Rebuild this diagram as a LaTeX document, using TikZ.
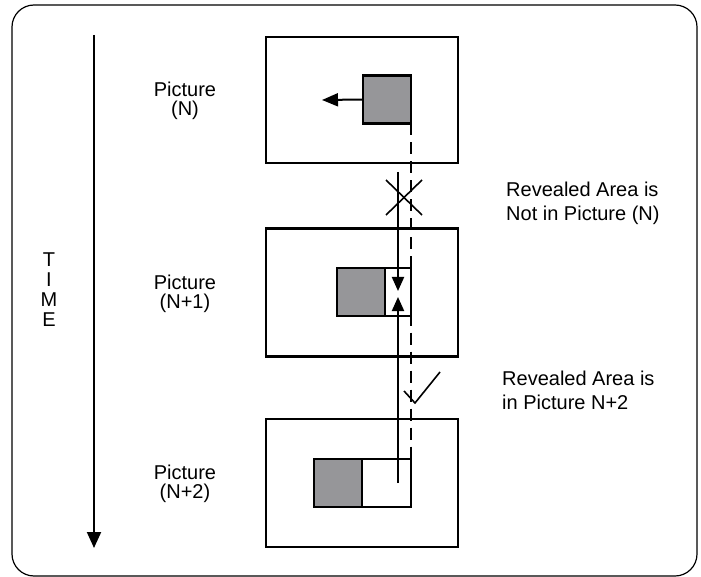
\documentclass[tikz,border=0pt]{standalone}
\usepackage{fontspec}
\setmainfont{Liberation Sans}
\usepackage{tikz}
\usetikzlibrary{positioning, arrows.meta}
\definecolor{movgray}{RGB}{150,150,153}

\begin{document}
\begin{tikzpicture}[x=1pt, y=-1pt,
        frame/.style={rectangle, draw, line width=2.2pt, minimum width=192pt, minimum height=127pt, inner sep=0pt, outer sep=0pt},
        movbox/.style={rectangle, draw, fill=movgray, line width=2.2pt, minimum width=48pt, minimum height=48pt, inner sep=0pt, outer sep=0pt},
        reveal/.style={rectangle, draw, fill=white, line width=2.2pt, minimum height=48pt, inner sep=0pt, outer sep=0pt},
        lbl/.style={font=\fontsize{20}{18.5}\selectfont, align=center, inner sep=0pt, anchor=north},
        note/.style={font=\fontsize{20}{24}\selectfont, align=left, inner sep=0pt, anchor=north west},
        ray/.style={line width=2pt, -{Triangle[length=14pt, width=12pt]}},
        signline/.style={line width=1.6pt}]
        \useasboundingbox (0,0) rectangle (701,577);
        \draw[rounded corners=22pt, line width=1.2pt] (12,5) rectangle (697,576);

        % time axis
        \coordinate (t0) at (94,35);
        \coordinate (t1) at (94,548);
        \draw[line width=2pt, -{Triangle[length=16pt, width=14pt]}] (t0) -- (t1);
        \node[font=\fontsize{20}{20}\selectfont, align=center, inner sep=0pt, anchor=north](time) at (49,253) {T\\I\\M\\E};

        % the three pictures
        \node[frame, minimum height=126pt](frameN) at (362,100) {};
        \node[frame, minimum height=128pt](frameN1) at (362,292.5) {};
        \node[frame, minimum height=128pt](frameN2) at (362,483) {};

        \node[movbox](sqN) at (387,99.5) {};
        \node[movbox](sqN1) at (361,292) {};
        \node[reveal, minimum width=26pt](revN1)[right = 0pt of sqN1] {};
        \node[movbox](sqN2) at (338,483) {};
        \node[reveal, minimum width=49pt](revN2)[right = 0pt of sqN2] {};

        \node[lbl](labN) at (185,82) {Picture\\(N)};
        \node[lbl](labN1) at (185,275) {Picture\\(N+1)};
        \node[lbl](labN2) at (185,465) {Picture\\(N+2)};

        % motion of the block
        \coordinate (moveTip) at (322,100);
        \draw[line width=2pt, -{Triangle[length=16pt, width=13pt]}] (sqN.west) -- (moveTip);

        % reference paths
        \draw[line width=2pt, dash pattern=on 12pt off 7pt] (sqN.south east) -- (revN2.north east);
        \coordinate (rayTop) at (398,172);
        \coordinate (rayDown) at (398,291);
        \coordinate (rayUp) at (398,297);
        \coordinate (rayEnd) at (398,483);
        \draw[ray] (rayTop) -- (rayDown);
        \draw[ray] (rayEnd) -- (rayUp);

        % cross and tick
        \coordinate (xa) at (386,180);
        \coordinate (xb) at (422,215);
        \coordinate (xc) at (422,180);
        \coordinate (xd) at (386,215);
        \draw[signline] (xa) -- (xb);
        \draw[signline] (xc) -- (xd);
        \coordinate (ca) at (404,391);
        \coordinate (cb) at (415,403);
        \coordinate (cc) at (440,372);
        \draw[signline] (ca) -- (cb) -- (cc);

        \node[note](noteNo) at (506,182) {Revealed Area is\\Not in Picture (N)};
        \node[note](noteYes) at (502,371) {Revealed Area is\\in Picture N+2};
\end{tikzpicture}
\end{document}
